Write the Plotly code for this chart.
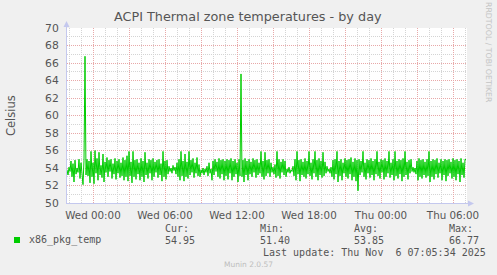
import plotly.graph_objects as go
import pandas as pd

# ---------------- data ----------------
start_time = "2025-11-04 21:50"
step_minutes = 5
temps = [
    53.8, 53.2, 54.1, 53.6, 54.8, 53.0, 54.5, 52.4, 54.9, 53.3, 54.0, 53.5, 55.0, 52.8, 54.6, 53.4, 52.1, 54.9, 66.77, 53.2,
    55.0, 53.1, 54.8, 52.3, 55.9, 53.0, 54.6, 52.2, 56.0, 53.4, 55.1, 52.6, 55.8, 53.2, 54.3, 52.9, 55.6, 52.4, 54.7, 53.5,
    55.2, 53.0, 54.9, 53.6, 55.0, 52.8, 54.5, 53.3, 55.1, 52.7, 54.8, 53.4, 55.0, 52.9, 54.6, 53.1, 55.2, 52.6, 54.9, 53.0,
    55.4, 52.5, 55.9, 53.1, 54.7, 52.3, 55.9, 53.0, 54.9, 52.7, 55.0, 53.3, 54.6, 52.6, 55.1, 53.0, 54.8, 52.4, 55.8, 53.2,
    54.6, 52.8, 55.0, 53.4, 54.9, 52.6, 55.1, 53.0, 54.7, 53.5, 54.9, 52.9, 55.0, 53.2, 54.5, 52.5, 55.9, 53.0, 54.8, 52.7,
    54.9, 53.3, 54.2, 53.6, 54.0, 53.4, 54.3, 53.7, 54.1, 53.3, 54.6, 53.0, 55.0, 52.6, 55.9, 53.1, 54.8, 52.5, 55.6, 53.0,
    54.7, 52.8, 55.9, 53.2, 54.9, 53.5, 55.1, 52.9, 54.6, 53.4, 55.2, 53.1, 54.4, 53.0, 53.8, 53.4, 54.0, 53.2, 53.9, 53.5,
    54.2, 53.1, 54.6, 53.4, 53.9, 52.6, 54.8, 53.2, 55.0, 53.6, 54.7, 53.0, 55.1, 52.8, 54.9, 53.3, 55.0, 52.6, 54.8, 53.1,
    55.0, 52.7, 54.9, 53.4, 55.1, 52.6, 54.8, 53.0, 55.0, 53.3, 54.6, 52.4, 55.0, 53.1, 64.75, 53.0, 54.9, 52.4, 55.1, 53.2,
    54.8, 52.6, 55.0, 53.3, 54.7, 53.0, 55.1, 53.5, 54.9, 52.9, 55.0, 53.2, 54.6, 53.4, 55.9, 53.0, 54.8, 52.7, 55.8, 53.1,
    54.9, 53.4, 55.0, 53.0, 54.6, 53.5, 54.1, 53.3, 54.4, 52.9, 55.9, 53.1, 55.0, 52.8, 54.7, 53.5, 55.0, 53.2, 54.8, 53.0,
    53.9, 53.5, 54.1, 53.4, 53.8, 53.6, 54.2, 53.1, 55.0, 52.6, 55.9, 53.3, 54.9, 52.5, 55.0, 53.2, 54.7, 53.0, 55.1, 52.8,
    54.8, 53.3, 55.9, 53.1, 54.6, 52.7, 55.0, 53.4, 55.9, 53.0, 54.9, 52.6, 55.1, 53.2, 54.8, 52.9, 55.8, 53.1, 54.7, 53.4,
    54.2, 53.6, 53.9, 53.4, 54.1, 53.0, 54.9, 52.7, 55.0, 53.3, 55.9, 52.4, 54.8, 53.1, 55.0, 52.6, 54.6, 53.4, 55.1, 53.0,
    54.9, 52.8, 55.0, 53.3, 55.2, 52.6, 54.7, 53.0, 55.1, 52.5, 54.9, 51.4, 55.0, 53.2, 54.8, 53.5, 55.9, 53.0, 54.6, 52.7,
    55.0, 53.4, 54.9, 52.9, 55.1, 53.2, 54.8, 52.6, 55.0, 53.3, 55.9, 53.1, 54.7, 52.8, 55.0, 53.5, 54.9, 52.7, 55.1, 53.0,
    54.8, 53.4, 55.9, 52.9, 54.6, 53.2, 55.0, 52.6, 55.9, 53.1, 54.8, 52.8, 55.0, 53.3, 54.9, 52.5, 55.1, 53.0, 55.9, 53.2,
    54.7, 52.7, 54.9, 53.4, 55.0, 53.6, 54.1, 53.5, 54.0, 53.3, 54.8, 52.6, 55.1, 53.0, 54.9, 52.8, 55.0, 53.2, 54.7, 52.9,
    55.0, 53.1, 55.9, 52.4, 54.8, 53.0, 55.0, 52.7, 54.9, 53.3, 55.1, 52.9, 54.6, 53.4, 55.0, 52.6, 54.8, 53.2, 55.0, 52.5,
    54.9, 53.1, 55.0, 53.4, 54.7, 52.8, 55.1, 53.0, 54.9, 52.6, 55.0, 53.3, 54.8, 52.4, 55.1, 53.2, 54.6, 52.9, 55.0, 54.95,
]
series_name = "x86_pkg_temp"
stat_labels = ["Cur:", "Min:", "Avg:", "Max:"]
stat_values = ["54.95", "51.40", "53.85", "66.77"]
title_text = "ACPI Thermal zone temperatures - by day"
y_title = "Celsius"
last_update = "Last update: Thu Nov  6 07:05:34 2025"
footer = "Munin 2.0.57"
side_text = "RRDTOOL / TOBI OETIKER"

times = pd.date_range(start_time, periods=len(temps), freq=f"{step_minutes}min")
x_end = times[0] + pd.Timedelta(minutes=step_minutes * len(temps))

# ---------------- layout geometry ----------------
W, H = 497, 275
L, R, T, B = 67, 30, 28, 72
PW, PH = W - L - R, H - T - B

def px(x):
    return (x - L) / PW

def py(y):
    return (H - B - y) / PH

TXT = "#555555"
MONO = "DejaVu Sans Mono"
AXC = "#C4C8EE"

fig = go.Figure()
fig.add_trace(go.Scatter(x=times, y=temps, mode="lines",
                         line=dict(color="#00CC00", width=1), hoverinfo="skip",
                         showlegend=False))

fig.update_layout(
    width=W, height=H, autosize=False,
    margin=dict(l=L, r=R, t=T, b=B, pad=0),
    paper_bgcolor="#F0F0F0", plot_bgcolor="#FFFFFF",
    font=dict(family="DejaVu Sans", color=TXT, size=10),
    showlegend=False,
)

fig.update_xaxes(
    type="date", range=[times[0], x_end],
    tickmode="linear", tick0="2025-11-05 00:00", dtick=3 * 3600 * 1000,
    ticklabelstep=2, tickformat="%a %H:%M",
    showgrid=True, gridcolor="#E8A8A8", griddash="1px,1px", gridwidth=1,
    minor=dict(tickmode="linear", tick0="2025-11-05 00:00", dtick=3600 * 1000,
               showgrid=True, gridcolor="#D4D4D4", griddash="1px,1px", gridwidth=1),
    ticks="outside", ticklen=3, tickcolor="rgba(0,0,0,0)",
    tickfont=dict(size=10.3, color=TXT),
    showline=False, zeroline=False, fixedrange=True,
)
fig.update_yaxes(
    range=[50, 70], tickmode="linear", tick0=50, dtick=2,
    showgrid=True, gridcolor="#E8A8A8", griddash="1px,1px", gridwidth=1,
    minor=dict(tickmode="linear", tick0=50, dtick=1,
               showgrid=True, gridcolor="#D4D4D4", griddash="1px,1px", gridwidth=1),
    ticks="outside", ticklen=5, tickcolor="rgba(0,0,0,0)",
    tickfont=dict(size=10.8, color=TXT),
    showline=False, zeroline=False, fixedrange=True,
)

# axis lines with arrows
shapes = [
    dict(type="line", xref="paper", yref="paper", x0=px(66.5), x1=px(66.5), y0=py(203), y1=py(24),
         line=dict(color=AXC, width=1)),
    dict(type="line", xref="paper", yref="paper", x0=px(66), x1=px(470), y0=py(203.5), y1=py(203.5),
         line=dict(color=AXC, width=1)),
    dict(type="path", xref="paper", yref="paper",
         path=f"M {px(63.5)} {py(27)} L {px(69.5)} {py(27)} L {px(66.5)} {py(21)} Z",
         fillcolor=AXC, line=dict(color=AXC, width=0)),
    dict(type="path", xref="paper", yref="paper",
         path=f"M {px(468)} {py(200.5)} L {px(468)} {py(206.5)} L {px(474)} {py(203.5)} Z",
         fillcolor=AXC, line=dict(color=AXC, width=0)),
    # legend colour box
    dict(type="rect", xref="paper", yref="paper", x0=px(14), x1=px(20), y0=py(243), y1=py(237),
         fillcolor="#00CC00", line=dict(width=0)),
]
fig.update_layout(shapes=shapes)

ann = []
def text(x, y, s, size, color=TXT, family="DejaVu Sans", xanchor="left", angle=0):
    ann.append(dict(x=px(x), y=py(y), xref="paper", yref="paper", text=s, showarrow=False,
                    xanchor=xanchor, yanchor="middle", textangle=angle,
                    font=dict(size=size, color=color, family=family)))

text(248, 17, title_text, 12.8, xanchor="center")
text(11, 115, y_title, 11.5, xanchor="center", angle=-90)
text(489, 52, side_text, 7.8, color="#C4C4C4", xanchor="center", angle=90)
text(27, 240, series_name, 10, family=MONO)
stat_x = [163, 258, 352, 447]
for xx, lab, val in zip(stat_x, stat_labels, stat_values):
    text(xx, 228, lab, 10, family=MONO)
    text(xx, 240, val, 10, family=MONO)
text(261, 252, last_update, 10, family=MONO)
text(248, 264, footer, 7.5, color="#BDBDBD", xanchor="center")
fig.update_layout(annotations=ann)

fig.write_html("out.html")
